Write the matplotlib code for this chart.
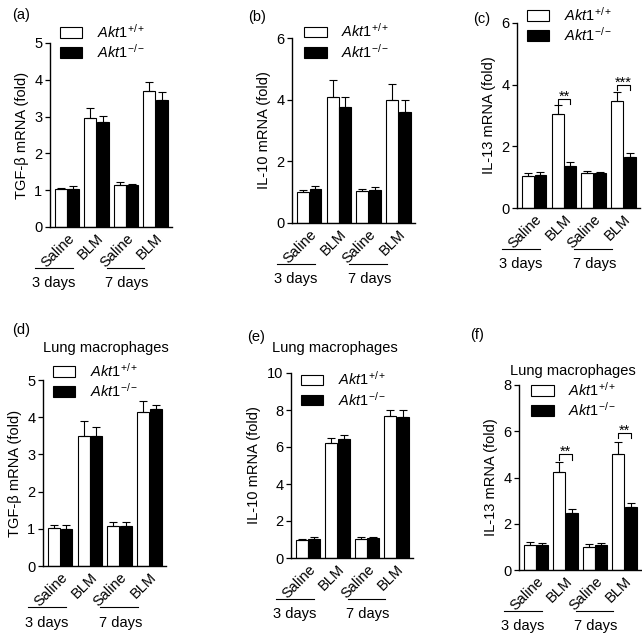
import matplotlib
matplotlib.use("Agg")
import matplotlib.pyplot as plt
import matplotlib.transforms as mtransforms
import numpy as np

plt.rcParams['font.family'] = ['Liberation Sans', 'DejaVu Sans']
plt.rcParams['mathtext.fontset'] = 'custom'
plt.rcParams['mathtext.rm'] = 'Liberation Sans'
plt.rcParams['mathtext.it'] = 'Liberation Sans:italic'
plt.rcParams['mathtext.bf'] = 'Liberation Sans:bold'

# ---------------- data ----------------
treatments = ['Saline', 'BLM', 'Saline', 'BLM']
day_labels = ['3 days', '7 days']
legend_labels = [r'$\mathit{Akt1}^{+/+}$', r'$\mathit{Akt1}^{-/-}$']

a_wt = [1.02, 2.96, 1.13, 3.70]
a_wt_err = [0.04, 0.28, 0.08, 0.24]
a_ko = [1.04, 2.85, 1.15, 3.44]
a_ko_err = [0.07, 0.17, 0.03, 0.24]

b_wt = [1.00, 4.08, 1.04, 3.98]
b_wt_err = [0.07, 0.57, 0.06, 0.53]
b_ko = [1.11, 3.75, 1.08, 3.61]
b_ko_err = [0.08, 0.33, 0.09, 0.39]

c_wt = [1.03, 3.05, 1.14, 3.48]
c_wt_err = [0.12, 0.28, 0.06, 0.27]
c_ko = [1.06, 1.37, 1.14, 1.66]
c_ko_err = [0.11, 0.12, 0.03, 0.13]

d_wt = [1.03, 3.49, 1.07, 4.14]
d_wt_err = [0.08, 0.40, 0.10, 0.29]
d_ko = [0.99, 3.49, 1.07, 4.23]
d_ko_err = [0.12, 0.25, 0.11, 0.11]

e_wt = [0.99, 6.22, 1.03, 7.68]
e_wt_err = [0.06, 0.27, 0.11, 0.30]
e_ko = [1.05, 6.45, 1.08, 7.60]
e_ko_err = [0.10, 0.22, 0.06, 0.40]

f_wt = [1.07, 4.25, 1.01, 5.03]
f_wt_err = [0.14, 0.40, 0.10, 0.52]
f_ko = [1.07, 2.48, 1.07, 2.71]
f_ko_err = [0.11, 0.14, 0.11, 0.20]

# significance: (group index, stars, bracket y, tick bottom y)
c_sig = [(1, '**', 3.54, 3.36), (3, '***', 3.99, 3.83)]
f_sig = [(1, '**', 5.02, 4.76), (3, '**', 5.92, 5.70)]

W, H = 642, 636
fig = plt.figure(figsize=(W / 100, H / 100), dpi=100)

FS = 10.5


def ax_px(left, right, top, bottom):
    return [left / W, (H - bottom) / H, (right - left) / W, (bottom - top) / H]


panels = [
    dict(rect=ax_px(50, 172, 43, 227), wt=a_wt, wte=a_wt_err, ko=a_ko, koe=a_ko_err,
         ymax=5, ticks=[0, 1, 2, 3, 4, 5], ylabel='TGF-β mRNA (fold)', leg=(0.08, 1.11),
         label='(a)', lab=(12, 8), title=None, sig=[]),
    dict(rect=ax_px(292, 415, 38, 223), wt=b_wt, wte=b_wt_err, ko=b_ko, koe=b_ko_err,
         ymax=6, ticks=[0, 2, 4, 6], ylabel='IL-10 mRNA (fold)', leg=(0.10, 1.085),
         label='(b)', lab=(248, 10), title=None, sig=[]),
    dict(rect=ax_px(517, 640, 23, 208), wt=c_wt, wte=c_wt_err, ko=c_ko, koe=c_ko_err,
         ymax=6, ticks=[0, 2, 4, 6], ylabel='IL-13 mRNA (fold)', leg=(0.08, 1.095),
         label='(c)', lab=(473, 12), title=None, sig=c_sig),
    dict(rect=ax_px(43, 166, 380, 566), wt=d_wt, wte=d_wt_err, ko=d_ko, koe=d_ko_err,
         ymax=5, ticks=[0, 1, 2, 3, 4, 5], ylabel='TGF-β mRNA (fold)', leg=(0.08, 1.10),
         label='(d)', lab=(12, 323), title=(106, 348), sig=[]),
    dict(rect=ax_px(291, 413, 373, 558), wt=e_wt, wte=e_wt_err, ko=e_ko, koe=e_ko_err,
         ymax=10, ticks=[0, 2, 4, 6, 8, 10], ylabel='IL-10 mRNA (fold)', leg=(0.08, 1.015),
         label='(e)', lab=(247, 330), title=(335, 348), sig=[]),
    dict(rect=ax_px(519, 641, 385, 570), wt=f_wt, wte=f_wt_err, ko=f_ko, koe=f_ko_err,
         ymax=8, ticks=[0, 2, 4, 6, 8], ylabel='IL-13 mRNA (fold)', leg=(0.10, 1.025),
         label='(f)', lab=(470, 328), title=(573, 371), sig=f_sig),
]

x = np.arange(len(treatments))
bw = 0.40
off = 0.21

for p in panels:
    ax = fig.add_axes(p['rect'])
    n = len(x)
    wt_b = ax.bar(x - off, p['wt'], bw, color='white', edgecolor='black', linewidth=0.8,
                  yerr=[np.zeros(n), p['wte']], capsize=2.6,
                  error_kw=dict(elinewidth=0.8, capthick=0.8, ecolor='black'), zorder=2)
    ko_b = ax.bar(x + off, p['ko'], bw, color='black', edgecolor='black', linewidth=0.8,
                  yerr=[np.zeros(n), p['koe']], capsize=2.6,
                  error_kw=dict(elinewidth=0.8, capthick=0.8, ecolor='black'), zorder=2)
    ax.set_xlim(-0.58, 3.56)
    ax.set_ylim(0, p['ymax'])
    ax.set_yticks(p['ticks'])
    ax.set_xticks(x)
    ax.set_xticklabels(treatments, rotation=45, ha='right', va='top',
                       rotation_mode='anchor', fontsize=FS)
    ax.tick_params(axis='x', length=0, pad=3)
    ax.tick_params(axis='y', length=3.5, width=0.9, pad=2, labelsize=FS)
    for s in ['top', 'right']:
        ax.spines[s].set_visible(False)
    for s in ['left', 'bottom']:
        ax.spines[s].set_linewidth(1.0)
    ax.set_ylabel(p['ylabel'], fontsize=FS, labelpad=4)

    # group lines and day labels
    trans = mtransforms.blended_transform_factory(ax.transData, ax.transAxes)
    for (x0, x1, xc, lab) in [(-1.10, 0.20, -0.44, day_labels[0]),
                              (1.35, 2.62, 2.02, day_labels[1])]:
        ax.plot([x0, x1], [-0.222, -0.222], color='black', lw=0.8, transform=trans,
                clip_on=False)
        ax.text(xc, -0.305, lab, transform=trans, ha='center', va='center', fontsize=FS)

    ax.legend([wt_b, ko_b], legend_labels, loc='upper left', bbox_to_anchor=p['leg'],
              frameon=False, fontsize=FS, handlelength=1.55, handleheight=0.75,
              handletextpad=1.0, labelspacing=0.15, borderpad=0, borderaxespad=0)

    for (gi, stars, yb, yt) in p['sig']:
        xl, xr = gi - off, gi + off
        ax.plot([xl, xl, xr, xr], [yt, yb, yb, yt], color='black', lw=0.8, clip_on=False)
        ax.annotate(stars, xy=(gi, yb), xytext=(0, -2), textcoords='offset pixels',
                    ha='center', va='baseline', fontsize=10.5, annotation_clip=False)

    fig.text(p['lab'][0] / W, 1 - p['lab'][1] / H, p['label'], ha='left', va='top',
             fontsize=FS)
    if p['title'] is not None:
        fig.text(p['title'][0] / W, 1 - p['title'][1] / H, 'Lung macrophages',
                 ha='center', va='center', fontsize=FS)

fig.savefig('out.png', dpi=100)
